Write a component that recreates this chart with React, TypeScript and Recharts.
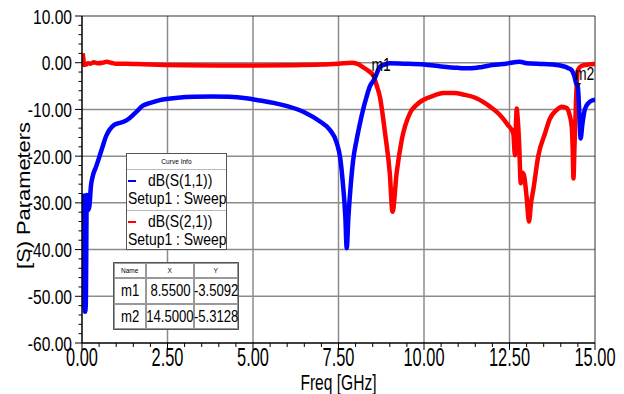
import React from 'react';
import {
  LineChart, Line, XAxis, YAxis, CartesianGrid, ReferenceLine, ReferenceDot, Legend,
} from 'recharts';

// no narrow face installed, so Liberation Sans is squeezed by hand
const FONT = "'Liberation Sans', Arial, sans-serif";
const SQUEEZE = 0.82;

// axis ticks
const freqTicks = [0, 2.5, 5, 7.5, 10, 12.5, 15];
const dbTicks = [-60, -50, -40, -30, -20, -10, 0, 10];
const freqMinor = Array.from({ length: 31 }, (_, i) => i * 0.5);
const dbMinor = Array.from({ length: 36 }, (_, i) => -60 + i * 2);

// dB(S(1,1))
const s11Freq = [
  0.05, 0.07, 0.09, 0.11, 0.14, 0.17, 0.19, 0.22, 0.26, 0.31, 0.41, 0.51, 0.6, 0.7, 0.8, 0.94,
  1.1, 1.31, 1.55, 1.78, 2.0, 2.28, 2.8, 3.3, 3.8, 4.3, 4.8, 5.2, 5.6, 6.0, 6.5, 6.96, 7.25,
  7.45, 7.55, 7.63, 7.7, 7.74, 7.79, 7.86, 7.93, 8.03, 8.13, 8.22, 8.32, 8.42, 8.55, 8.71, 8.85,
  9.0, 9.4, 10.0, 10.5, 11.0, 11.35, 11.7, 12.0, 12.4, 12.8, 13.0, 13.5, 13.88, 14.2, 14.32,
  14.4, 14.44, 14.5, 14.54, 14.58, 14.63, 14.7, 14.8, 14.95, 15.0,
];
const s11Db = [
  -28, -52, -53.3, -52, -28.3, -28.5, -31.5, -30.5, -26.5, -24.4, -22.3, -20.1, -18, -15.8, -14.4, -13.3,
  -12.9, -12.3, -10.8, -9.2, -8.6, -8.0, -7.5, -7.3, -7.25, -7.3, -7.6, -8.1, -8.6, -9.3, -10.6, -12.6, -14.4,
  -17.2, -20.4, -26, -33, -39.7, -33, -26, -20.8, -16.5, -12.9, -10, -7.3, -5.0, -3.51, -0.9, -0.4,
  -0.1, -0.2, -0.4, -0.8, -1.1, -1.2, -0.9, -0.5, -0.2, 0.2, -0.1, -0.3, -0.5, -1.1, -1.6,
  -3.0, -4.2, -5.31, -10.5, -16.2, -13.2, -10.1, -8.7, -8.0, -7.9,
];

// dB(S(2,1))
const s21Freq = [
  0.02, 0.04, 0.06, 0.09, 0.12, 0.17, 0.25, 0.35, 0.45, 0.6, 0.72, 0.85, 1.0, 1.3, 1.6, 2.0,
  3.0, 4.0, 5.0, 6.0, 7.0, 7.5, 7.9, 8.1, 8.2, 8.35, 8.52, 8.6, 8.71, 8.86, 9.0, 9.08, 9.2,
  9.35, 9.59, 9.8, 9.97, 10.3, 10.56, 10.9, 11.14, 11.5, 11.75, 11.93, 12.22, 12.45, 12.61,
  12.66, 12.69, 12.71, 12.74, 12.78, 12.83, 12.87, 12.92, 13.0, 13.07, 13.13, 13.2, 13.34,
  13.54, 13.68, 13.85, 14.03, 14.17, 14.25, 14.32, 14.35, 14.37, 14.4, 14.44, 14.47, 14.5,
  14.6, 14.8, 15.0,
];
const s21Db = [
  2.0, 0.8, -0.5, -0.3, -0.4, -0.1, -0.2, 0.1, -0.1, 0.0, 0.2, 0.0, -0.2, -0.2, -0.3, -0.4,
  -0.55, -0.6, -0.6, -0.55, -0.4, -0.2, 0.0, -0.4, -0.9, -1.6, -2.8, -4.5, -7.3, -15, -23.7, -31.9, -23.6,
  -16.5, -10.8, -8.9, -8.0, -7.0, -6.5, -6.5, -6.8, -7.5, -8.5, -9.4, -11.2, -13.3, -15.1,
  -19.8, -13, -9.8, -12, -17, -25.8, -23.5, -24, -28.7, -34, -30, -27, -20,
  -15.1, -12, -10.3, -9.4, -9.7, -11, -13.7, -19, -24.8, -18, -9.4, -4, -1.6,
  -0.7, -0.4, -0.3,
];

// marker table
const markerNames = ['m1', 'm2'];
const markerFreq = [8.55, 14.5];
const markerDb = [-3.5092, -5.3128];

const toPoints = (f: number[], v: number[]) => f.map((x, i) => ({ freq: x, db: v[i] }));
const s11Data = toPoints(s11Freq, s11Db);
const s21Data = toPoints(s21Freq, s21Db);

const FreqTick = ({ x, y, payload }: any) => {
  const major = freqTicks.includes(payload.value);
  return (
    <g>
      <line x1={x} x2={x} y1={y} y2={y + (major ? 7 : 4)} stroke="#000" />
      {major && (
        <text transform={`translate(${x},${y + 23}) scale(${SQUEEZE},1.25)`} textAnchor="middle"
          fontSize={20} fontFamily={FONT} fill="#000">
          {payload.value.toFixed(2)}
        </text>
      )}
    </g>
  );
};

const DbTick = ({ x, y, payload }: any) => {
  const major = dbTicks.includes(payload.value);
  return (
    <g>
      <line x1={x - (major ? 7 : 3.5)} x2={x} y1={y} y2={y} stroke="#000" />
      {major && (
        <text transform={`translate(${x - 10},${y + 7.5}) scale(${SQUEEZE},1.1)`} textAnchor="end"
          fontSize={19} fontFamily={FONT} fill="#000">
          {payload.value.toFixed(2)}
        </text>
      )}
    </g>
  );
};

const XTitle = ({ viewBox }: any) => (
  <text transform={`translate(${viewBox.x + viewBox.width / 2},${viewBox.y + 47}) scale(${SQUEEZE},1.15)`}
    textAnchor="middle" fontSize={19} fontFamily={FONT} fill="#000">
    Freq [GHz]
  </text>
);

const YTitle = ({ viewBox }: any) => (
  <text transform={`translate(${viewBox.x + 30},${viewBox.y + viewBox.height / 2 + 16}) rotate(-90) scale(1.15,1)`}
    textAnchor="middle" fontSize={19} fontFamily={FONT} fill="#000">
    [S) Parameters
  </text>
);

const Narrow = ({ children, origin = 'left center' }: any) => (
  <span style={{ display: 'inline-block', whiteSpace: 'nowrap', transform: `scaleX(${SQUEEZE})`, transformOrigin: origin }}>
    {children}
  </span>
);

const CurveInfo = ({ payload }: any) => {
  const items = [...(payload || [])].sort((a, b) => String(a.value).localeCompare(String(b.value)));
  return (
    <div style={{
      width: 101, height: 97, boxSizing: 'border-box', border: '1px solid #555', background: '#fff',
      fontFamily: FONT, color: '#000', overflow: 'hidden',
    }}>
      <div style={{ height: 15, lineHeight: '15px', fontSize: 8, textAlign: 'center', borderBottom: '1px solid #bbb' }}>
        <Narrow origin="center">Curve Info</Narrow>
      </div>
      {items.map((item: any, i: number) => (
        <div key={item.value} style={{
          height: 40, paddingTop: 2, boxSizing: 'border-box', fontSize: 17, lineHeight: '18px',
          borderTop: i > 0 ? '1px solid #bbb' : 'none', paddingLeft: 1, whiteSpace: 'nowrap',
        }}>
          <div style={{ display: 'flex', alignItems: 'center' }}>
            <span style={{ display: 'inline-block', width: 14, height: 2, background: item.color, marginRight: 12 }} />
            <Narrow>{item.value}</Narrow>
          </div>
          <div><Narrow>Setup1 : Sweep</Narrow></div>
        </div>
      ))}
    </div>
  );
};

const COLS = [32, 48, 44];
const ROWS = [15, 26, 25];

const Cell = ({ w, h, size, children }: any) => (
  <div style={{
    width: w, height: h, boxSizing: 'border-box', border: '0.5px solid #999', fontSize: size,
    display: 'flex', alignItems: 'center', justifyContent: 'center', overflow: 'visible',
  }}>
    <Narrow origin="center">{children}</Narrow>
  </div>
);

const MarkerTable = () => {
  const rows = [['Name', 'X', 'Y'], ...markerNames.map((n, i) => [n, markerFreq[i].toFixed(4), markerDb[i].toFixed(4)])];
  return (
    <div style={{
      position: 'absolute', left: 113, top: 262, background: '#fff', fontFamily: FONT, color: '#000',
      border: '1px solid #555',
    }}>
      {rows.map((r, ri) => (
        <div key={ri} style={{ display: 'flex' }}>
          {r.map((t, ci) => (
            <Cell key={ci} w={COLS[ci]} h={ROWS[ri]} size={ri === 0 ? 8 : 16}>{t}</Cell>
          ))}
        </div>
      ))}
    </div>
  );
};

const markerShape = (name: string) => (props: any) => {
  const { cx, cy } = props;
  return (
    <g>
      <path d={`M${cx - 2.5},${cy - 4} L${cx + 2.5},${cy - 4} L${cx},${cy} Z`} fill="none" stroke="#000" strokeWidth={1} />
      <text transform={`translate(${cx - 3},${cy - 8}) scale(${SQUEEZE},1.1)`} fontSize={17} fontFamily={FONT} fill="#000">{name}</text>
    </g>
  );
};

// grid positions follow the plot box handed over by recharts
const gridX = ({ offset }: any) =>
  freqTicks.slice(1, -1).map((v) => offset.left + (v / 15) * offset.width);
const gridY = ({ offset }: any) =>
  dbTicks.slice(1, -1).map((v) => offset.top + ((10 - v) / 70) * offset.height);

export default function App() {
  return (
    <div style={{ position: 'relative', width: 624, height: 394, margin: '-8px 0 0 -8px' }}>
      <LineChart width={624} height={394} margin={{ top: 16, right: 29, bottom: 0, left: 0 }}
        style={{ fontFamily: FONT }}>
        <CartesianGrid
          stroke="#8c8c8c"
          strokeWidth={1.5}
          verticalCoordinatesGenerator={gridX}
          horizontalCoordinatesGenerator={gridY}
        />
        <XAxis dataKey="freq" type="number" domain={[0, 15]} ticks={freqMinor} interval={0}
          tickSize={0} tickMargin={0} tick={<FreqTick />} tickLine={false}
          axisLine={{ stroke: '#000', strokeWidth: 1.5 }} height={51} label={<XTitle />} allowDataOverflow />
        <YAxis type="number" domain={[-60, 10]} ticks={dbMinor} interval={0}
          tickSize={0} tickMargin={0} tick={<DbTick />} tickLine={false}
          axisLine={{ stroke: '#000', strokeWidth: 1.5 }} width={82} label={<YTitle />} allowDataOverflow />
        <ReferenceLine y={10} stroke="#333" strokeWidth={1} />
        <ReferenceLine x={15} stroke="#333" strokeWidth={1} />
        <Line data={s21Data} dataKey="db" name="dB(S(2,1))" type="monotoneX" stroke="#ff0000"
          strokeWidth={4.5} dot={false} isAnimationActive={false} />
        <Line data={s11Data} dataKey="db" name="dB(S(1,1))" type="monotoneX" stroke="#0000ff"
          strokeWidth={4.5} dot={false} isAnimationActive={false} />
        {markerNames.map((n, i) => (
          <ReferenceDot key={n} x={markerFreq[i]} y={markerDb[i]} r={3} ifOverflow="visible" shape={markerShape(n)} />
        ))}
        <Legend layout="vertical" align="center" verticalAlign="middle"
          wrapperStyle={{ left: 126, top: 153, width: 101, height: 97 }} content={<CurveInfo />} />
      </LineChart>
      <MarkerTable />
    </div>
  );
}
